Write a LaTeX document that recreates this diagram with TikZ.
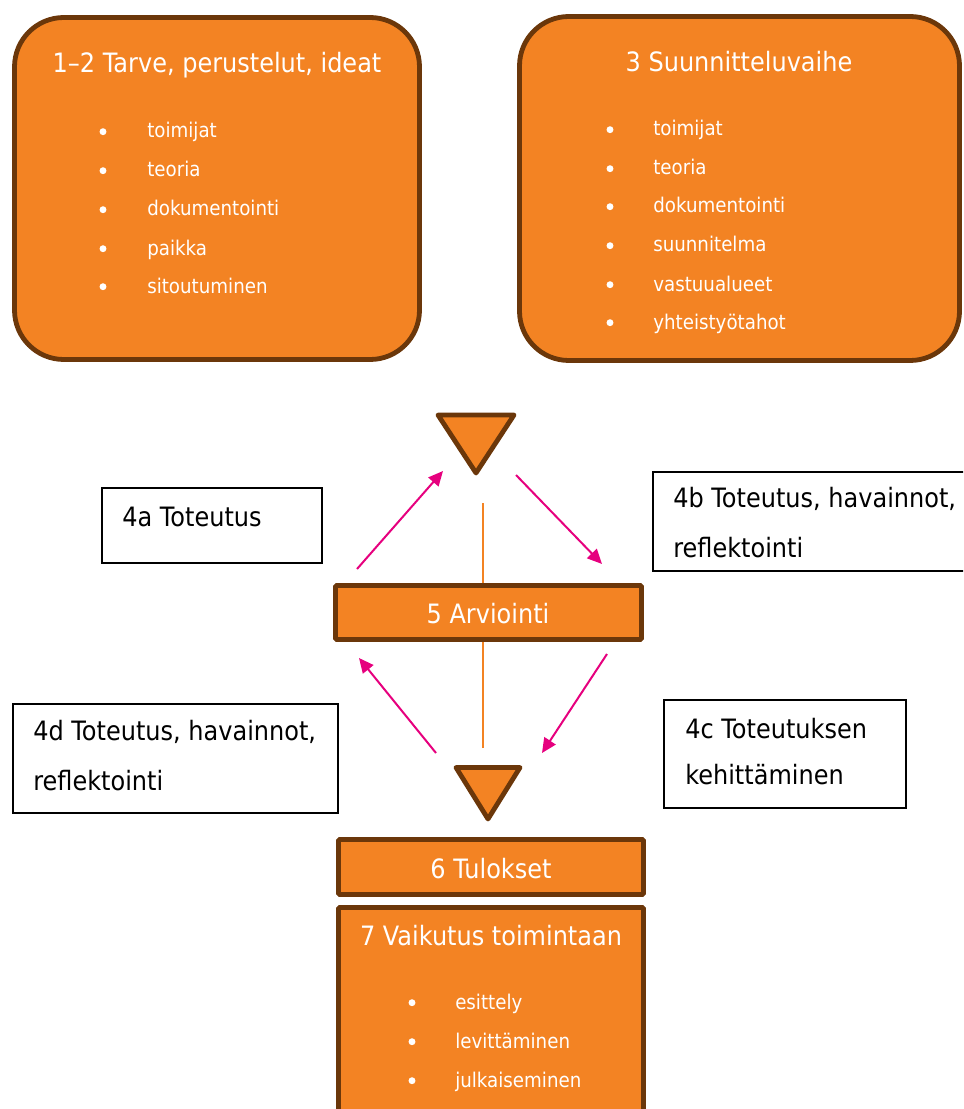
\documentclass[tikz,border=0pt]{standalone}
\usepackage{fontspec}
\setmainfont{DejaVu Sans}[FakeStretch=0.9]
\usetikzlibrary{arrows.meta,fit}
\definecolor{orfill}{HTML}{F38323}
\definecolor{brn}{HTML}{6B370A}
\definecolor{pnk}{HTML}{E6007E}
\tikzset{
  bigbox/.style={draw=brn, fill=orfill, line width=3.6pt, rounded corners=37pt, inner sep=0pt},
  barbox/.style={draw=brn, fill=orfill, line width=3.6pt, rounded corners=1pt, inner sep=0pt},
  tri/.style={draw=brn, fill=orfill, line width=3.6pt, line join=round},
  txtbox/.style={draw=black, line width=0.9pt, inner sep=0pt},
  wtitle/.style={text=white, font=\fontsize{20}{22}\selectfont, anchor=base, inner sep=0pt},
  witem/.style={text=white, font=\fontsize{15.2}{17}\selectfont, anchor=base west, inner sep=0pt},
  wbul/.style={circle, fill=white, inner sep=0pt, minimum size=5.2pt},
  btext/.style={text=black, font=\fontsize{20}{22}\selectfont, anchor=base west, inner sep=0pt},
  pinkarrow/.style={draw=pnk, line width=1.5pt, -{Triangle[length=11pt,width=10pt]}},
  vline/.style={draw=orfill, line width=1.2pt},
}
\begin{document}
\begin{tikzpicture}[x=0.75pt,y=-0.75pt]
\useasboundingbox (0,0) rectangle (963,1109);
\clip (0,0) rectangle (963,1109);

% Box 1-2
\node[bigbox, fit={(14.5,17.5) (419.5,359.5)}] (b1) {};
\node[wtitle] (t1) at (217,73) {1–2 Tarve, perustelut, ideat};
\foreach \y/\t [count=\i] in {138/toimijat,177/teoria,216/dokumentointi,255/paikka,293/sitoutuminen}{
  \node[wbul] (b1d\i) at (103,\y-6.3) {};
  \node[witem] (b1i\i) at (147,\y) {\t};
}

% Box 3
\node[bigbox, fit={(519.5,16.5) (959.5,360.5)}] (b3) {};
\node[wtitle] (t3) at (739,72) {3 Suunnitteluvaihe};
\foreach \y/\t [count=\i] in {136/toimijat,175/teoria,213/dokumentointi,252/suunnitelma,291/vastuualueet,329/yhteistyötahot}{
  \node[wbul] (b3d\i) at (610,\y-6.3) {};
  \node[witem] (b3i\i) at (653,\y) {\t};
}

% Triangles
\draw[tri] (438,415) -- (514,415) -- (476,473) -- cycle;
\coordinate (tri1) at (476,434);
\draw[tri] (456,767.5) -- (520,767.5) -- (488,819) -- cycle;
\coordinate (tri2) at (488,784);

% Box 5
\node[barbox, fit={(335.5,585.5) (641.5,639.5)}] (b5) {};
\node[wtitle] (t5) at (488,623) {5 Arviointi};

% vertical lines
\coordinate (v1) at (483,503);
\draw[vline] (v1) -- (v1 |- b5.north);
\coordinate (v2) at (483,748);
\draw[vline] (v2) -- (v2 |- b5.south);

% Box 6
\node[barbox, fit={(338.5,839.5) (643.5,894.5)}] (b6) {};
\node[wtitle] (t6) at (491,878) {6 Tulokset};

% Box 7
\node[barbox, fit={(338.5,907.5) (643.5,1135)}] (b7) {};
\node[wtitle] (t7) at (491,945) {7 Vaikutus toimintaan};
\foreach \y/\t [count=\i] in {1009/esittely,1048/levittäminen,1087/julkaiseminen}{
  \node[wbul] (b7d\i) at (412,\y-6.3) {};
  \node[witem] (b7i\i) at (455,\y) {\t};
}

% Text boxes
\node[txtbox, fit={(102,488) (322,563)}] (r4a) {};
\node[btext] (x4a) at (122,526) {4a Toteutus};

\node[txtbox, fit={(653,472) (985,571)}] (r4b) {};
\node[btext] (x4b1) at (673,507) {4b Toteutus, havainnot,};
\node[btext] (x4b2) at (673,557) {reflektointi};

\node[txtbox, fit={(13,704) (338,813)}] (r4d) {};
\node[btext] (x4d1) at (33,740) {4d Toteutus, havainnot,};
\node[btext] (x4d2) at (33,790) {reflektointi};

\node[txtbox, fit={(664,700) (906,808)}] (r4c) {};
\node[btext] (x4c1) at (685,738) {4c Toteutuksen};
\node[btext] (x4c2) at (685,784) {kehittäminen};

% Pink arrows
\coordinate (a1s) at (357,569); \coordinate (a1e) at (443,471);
\coordinate (a2s) at (516,475); \coordinate (a2e) at (602,564);
\coordinate (a3s) at (607,654); \coordinate (a3e) at (542,753);
\coordinate (a4s) at (436,753); \coordinate (a4e) at (359,658);
\draw[pinkarrow] (a1s) -- (a1e);
\draw[pinkarrow] (a2s) -- (a2e);
\draw[pinkarrow] (a3s) -- (a3e);
\draw[pinkarrow] (a4s) -- (a4e);
\end{tikzpicture}
\end{document}
